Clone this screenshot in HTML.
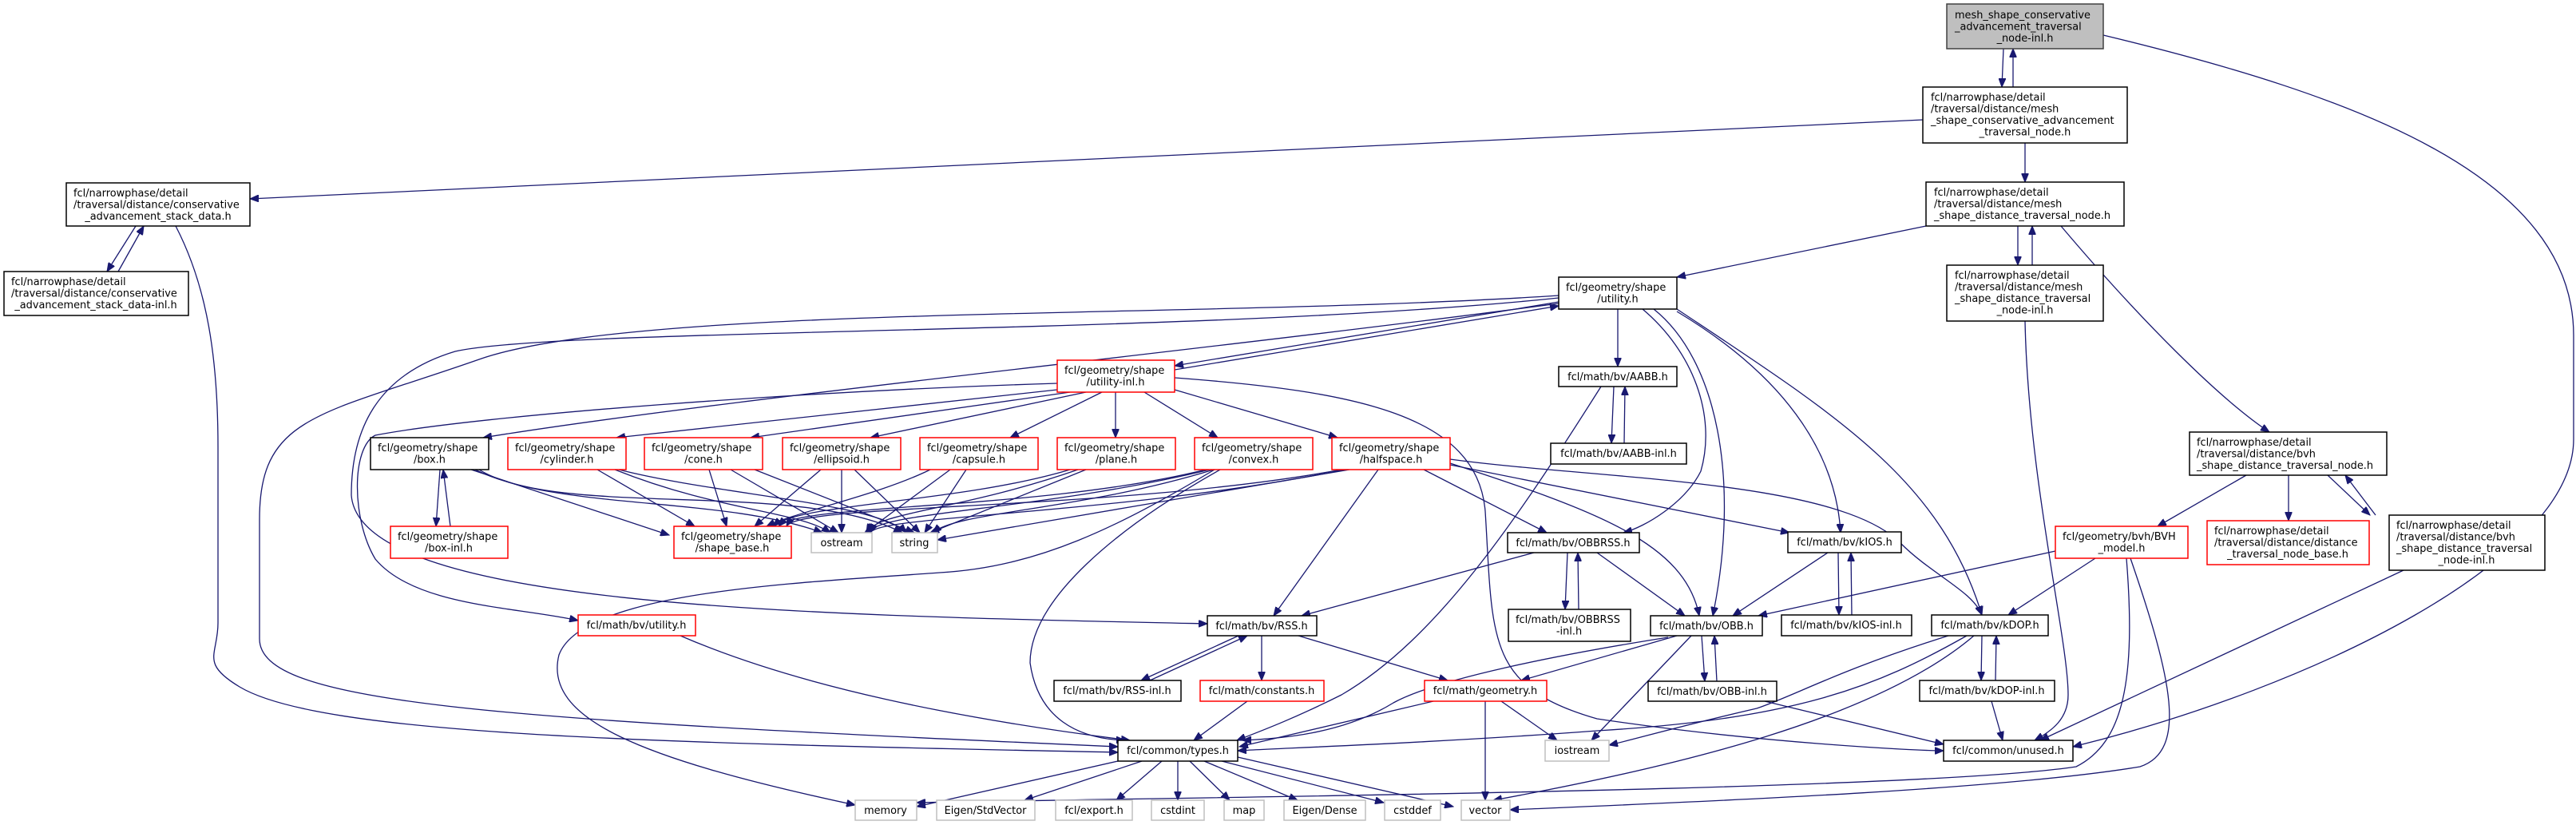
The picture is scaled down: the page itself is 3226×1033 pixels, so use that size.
<!DOCTYPE html>
<html><head><meta charset="utf-8"><style>
html,body{margin:0;padding:0;background:#fff;}
svg{display:block;}
text{font-family:"DejaVu Sans","Liberation Sans",sans-serif;font-size:12.9px;fill:#000;}
.e{fill:none;stroke:#191970;stroke-width:1.3;}
</style></head><body>
<svg width="3226" height="1033" viewBox="0 0 3226 1033" xmlns="http://www.w3.org/2000/svg">
<defs><marker id="a" markerUnits="userSpaceOnUse" markerWidth="12" markerHeight="9" refX="11" refY="4.5" orient="auto"><path d="M0,0 L11,4.5 L0,9 z" fill="#191970" stroke="#191970"/></marker></defs>
<g class="e" marker-end="url(#a)">
<path d="M2509,61 L2507,109"/><path d="M2521,109 L2521,61"/>
<path d="M2634,44 C2950,120 3223,220 3223,420 L3223,550 C3223,700 2900,860 2596,935"/>
<path d="M2408,150 L313,249"/>
<path d="M2536,179 L2536,228"/>
<path d="M2527,283 L2527,332"/><path d="M2545,332 L2545,283"/>
<path d="M2412,283 L2100,347"/>
<path d="M2581,283 C2680,400 2780,500 2842,541"/>
<path d="M2536,402 C2540,600 2590,800 2590,870 C2590,900 2570,915 2548,927"/>
<path d="M170,283 L134,340"/><path d="M148,340 L180,283"/>
<path d="M220,283 C260,360 273,450 273,560 L273,780 C273,820 250,830 300,860 C400,920 800,930 1400,942"/>
<path d="M1952,370 C1500,400 800,380 600,450 C400,520 325,520 325,650 L325,800 C325,880 600,900 1400,935"/>
<path d="M1952,373 C1500,420 700,410 570,440 C470,470 440,540 440,620 C450,760 1000,770 1512,781"/>
<path d="M1324,480 C1000,490 600,520 470,545 C440,560 440,650 470,700 C520,760 650,760 724,777"/>
<path d="M1952,380 C1500,440 900,500 605,548"/>
<path d="M1952,378 L1471,458"/><path d="M1471,463 L1952,383"/>
<path d="M1324,488 L772,548"/><path d="M1340,491 L940,548"/><path d="M1360,491 L1090,548"/>
<path d="M1380,491 L1265,548"/><path d="M1397,491 L1397,548"/><path d="M1433,491 L1525,548"/>
<path d="M1471,488 L1675,548"/>
<path d="M1471,473 C1700,490 1850,520 1860,640 C1870,800 1860,860 2000,900 C2200,930 2400,940 2434,940"/>
<path d="M551,588 L546,659"/><path d="M564,659 L555,588"/>
<path d="M590,588 L838,670"/><path d="M595,588 C700,640 900,620 1030,667"/><path d="M600,588 C700,650 1000,600 1130,667"/>
<path d="M748,588 L870,659"/><path d="M770,588 C900,640 1000,640 1040,667"/><path d="M775,588 C900,620 1100,630 1135,667"/>
<path d="M888,588 L910,659"/><path d="M915,588 L1050,667"/><path d="M945,588 L1145,667"/>
<path d="M1028,588 L945,659"/><path d="M1054,588 L1054,667"/><path d="M1070,588 L1152,667"/>
<path d="M1165,588 C1100,620 1000,640 960,659"/><path d="M1190,588 L1083,667"/><path d="M1210,588 L1158,667"/>
<path d="M1340,588 C1200,630 1000,630 968,659"/><path d="M1350,588 C1200,640 1100,640 1085,667"/><path d="M1360,588 L1165,667"/>
<path d="M1510,588 C1300,640 1000,630 975,659"/><path d="M1515,588 C1300,640 1100,640 1088,667"/><path d="M1520,588 C1350,640 1200,640 1168,667"/>
<path d="M1521,588 C1400,660 1300,710 1177,717 C1000,730 730,740 700,820 C680,900 800,950 1071,1008"/>
<path d="M1528,588 C1400,660 1290,750 1290,830 C1300,900 1350,925 1409,927"/>
<path d="M1680,588 C1400,640 1000,630 985,659"/><path d="M1685,588 C1400,645 1100,645 1090,667"/>
<path d="M1690,588 L1174,676"/><path d="M1726,588 L1595,771"/><path d="M1783,588 L1937,667"/>
<path d="M1816,580 C2000,640 2110,680 2128,771"/><path d="M1816,582 L2241,667"/>
<path d="M1816,575 C2000,600 2300,600 2380,680 C2420,720 2470,740 2482,770"/>
<path d="M2026,387 L2026,459"/>
<path d="M2021,484 L2018,555"/><path d="M2034,555 L2035,484"/>
<path d="M2005,484 C1900,650 1800,800 1680,870 C1620,900 1580,915 1549,927"/>
<path d="M2057,387 C2120,440 2150,520 2130,590 C2110,630 2060,660 2033,667"/>
<path d="M2071,387 C2150,450 2180,600 2145,771"/>
<path d="M2100,390 C2250,480 2300,580 2305,667"/>
<path d="M2100,387 C2300,520 2430,600 2482,770"/>
<path d="M1963,692 L1960,763"/><path d="M1977,763 L1976,692"/>
<path d="M1921,692 L1630,771"/><path d="M2000,692 L2110,771"/>
<path d="M2302,692 L2303,770"/><path d="M2319,770 L2318,692"/><path d="M2289,692 L2170,771"/>
<path d="M2574,690 L2202,771"/><path d="M2624,699 L2515,770"/>
<path d="M2663,699 C2675,850 2660,930 2600,960 C2400,990 1500,998 1148,1005"/>
<path d="M2668,699 C2720,850 2740,940 2680,960 C2500,990 2100,1005 1891,1014"/>
<path d="M2813,595 L2702,659"/><path d="M2866,595 L2866,652"/>
<path d="M2915,595 L2968,645"/><path d="M2975,645 L2937,595"/>
<path d="M3010,714 L2555,927"/>
<path d="M2482,796 L2481,852"/><path d="M2499,852 L2500,796"/><path d="M2494,878 L2508,927"/>
<path d="M2440,796 C2300,840 2250,870 2200,887 C2100,910 2050,925 2015,933"/>
<path d="M2463,796 C2350,860 2250,900 2000,915 C1800,930 1600,937 1550,940"/>
<path d="M2472,796 C2350,900 2100,960 1870,1002"/>
<path d="M2131,796 L2135,853"/><path d="M2150,853 L2147,796"/><path d="M2210,878 L2434,932"/>
<path d="M2089,798 C1950,820 1800,850 1745,880 C1680,920 1600,925 1556,927"/>
<path d="M2100,796 L1905,852"/><path d="M2118,796 L1993,927"/>
<path d="M1551,796 L1429,852"/><path d="M1440,852 L1562,796"/>
<path d="M1580,796 L1580,852"/><path d="M1626,796 L1813,852"/>
<path d="M1562,878 L1495,927"/><path d="M1795,878 L1552,935"/>
<path d="M1860,878 L1860,1002"/><path d="M1880,878 L1950,927"/>
<path d="M852,796 C1000,860 1200,900 1415,927"/>
<path d="M1400,953 L1148,1010"/><path d="M1430,953 L1283,1002"/><path d="M1455,953 L1398,1002"/>
<path d="M1475,953 L1475,1002"/><path d="M1490,953 L1540,1002"/><path d="M1508,953 L1625,1002"/>
<path d="M1530,953 L1733,1005"/><path d="M1550,948 L1820,1010"/>
</g>
<g stroke-width="1.5">
<!-- black nodes -->
<g fill="#fff" stroke="#000">
<rect x="2408" y="109" width="256" height="70"/>
<rect x="2412" y="228" width="248" height="55"/>
<rect x="2438" y="332" width="196" height="70"/>
<rect x="83" y="229" width="230" height="54"/>
<rect x="5" y="340" width="231" height="55"/>
<rect x="1952" y="347" width="148" height="40"/>
<rect x="1952" y="459" width="148" height="25"/>
<rect x="1942" y="555" width="170" height="26"/>
<rect x="464" y="548" width="148" height="40"/>
<rect x="1888" y="667" width="165" height="25"/>
<rect x="1889" y="763" width="153" height="40"/>
<rect x="2239" y="666" width="142" height="26"/>
<rect x="2231" y="770" width="163" height="26"/>
<rect x="2419" y="770" width="146" height="26"/>
<rect x="2404" y="852" width="169" height="26"/>
<rect x="2742" y="541" width="247" height="54"/>
<rect x="2992" y="645" width="195" height="69"/>
<rect x="1512" y="771" width="137" height="25"/>
<rect x="1320" y="852" width="159" height="26"/>
<rect x="2067" y="771" width="140" height="25"/>
<rect x="2064" y="853" width="161" height="25"/>
<rect x="1400" y="927" width="150" height="26"/>
<rect x="2434" y="927" width="162" height="26"/>
</g>
<rect x="2438" y="5" width="196" height="56" fill="#bfbfbf" stroke="#404040"/>
<!-- red nodes -->
<g fill="#fff" stroke="#ff0000">
<rect x="1324" y="451" width="147" height="40"/>
<rect x="636" y="548" width="148" height="40"/>
<rect x="807" y="548" width="148" height="40"/>
<rect x="980" y="548" width="148" height="40"/>
<rect x="1152" y="548" width="148" height="40"/>
<rect x="1324" y="548" width="148" height="40"/>
<rect x="1496" y="548" width="148" height="40"/>
<rect x="1668" y="548" width="148" height="40"/>
<rect x="489" y="659" width="147" height="40"/>
<rect x="844" y="659" width="147" height="40"/>
<rect x="2574" y="659" width="166" height="40"/>
<rect x="2764" y="652" width="203" height="55"/>
<rect x="724" y="770" width="147" height="26"/>
<rect x="1503" y="852" width="155" height="26"/>
<rect x="1784" y="852" width="153" height="26"/>
</g>
<!-- gray nodes -->
<g fill="#fff" stroke="#bfbfbf">
<rect x="1016" y="667" width="76" height="25"/>
<rect x="1117" y="667" width="57" height="25"/>
<rect x="1935" y="927" width="80" height="26"/>
<rect x="1071" y="1002" width="77" height="25"/>
<rect x="1173" y="1002" width="123" height="25"/>
<rect x="1322" y="1002" width="96" height="25"/>
<rect x="1442" y="1002" width="66" height="25"/>
<rect x="1533" y="1002" width="50" height="25"/>
<rect x="1608" y="1002" width="102" height="25"/>
<rect x="1734" y="1002" width="70" height="25"/>
<rect x="1830" y="1002" width="61" height="25"/>
</g>
</g>
<!-- labels -->
<text x="2448" y="23">mesh_shape_conservative</text>
<text x="2448" y="37.5">_advancement_traversal</text>
<text x="2536" y="52" text-anchor="middle">_node-inl.h</text>
<text x="2418" y="126">fcl/narrowphase/detail</text>
<text x="2418" y="140.5">/traversal/distance/mesh</text>
<text x="2418" y="155">_shape_conservative_advancement</text>
<text x="2536" y="169.5" text-anchor="middle">_traversal_node.h</text>
<text x="2422" y="245">fcl/narrowphase/detail</text>
<text x="2422" y="259.5">/traversal/distance/mesh</text>
<text x="2422" y="274">_shape_distance_traversal_node.h</text>
<text x="2448" y="349">fcl/narrowphase/detail</text>
<text x="2448" y="363.5">/traversal/distance/mesh</text>
<text x="2448" y="378">_shape_distance_traversal</text>
<text x="2536" y="392.5" text-anchor="middle">_node-inl.h</text>
<text x="92" y="246">fcl/narrowphase/detail</text>
<text x="92" y="260.5">/traversal/distance/conservative</text>
<text x="198" y="275" text-anchor="middle">_advancement_stack_data.h</text>
<text x="14" y="357">fcl/narrowphase/detail</text>
<text x="14" y="371.5">/traversal/distance/conservative</text>
<text x="120" y="386" text-anchor="middle">_advancement_stack_data-inl.h</text>
<text x="1961" y="364">fcl/geometry/shape</text><text x="2026" y="378.5" text-anchor="middle">/utility.h</text>
<text x="1333" y="468">fcl/geometry/shape</text><text x="1397" y="482.5" text-anchor="middle">/utility-inl.h</text>
<text x="2026" y="476" text-anchor="middle">fcl/math/bv/AABB.h</text>
<text x="2027" y="572" text-anchor="middle">fcl/math/bv/AABB-inl.h</text>
<text x="473" y="565">fcl/geometry/shape</text><text x="538" y="579.5" text-anchor="middle">/box.h</text>
<text x="645" y="565">fcl/geometry/shape</text><text x="710" y="579.5" text-anchor="middle">/cylinder.h</text>
<text x="816" y="565">fcl/geometry/shape</text><text x="881" y="579.5" text-anchor="middle">/cone.h</text>
<text x="989" y="565">fcl/geometry/shape</text><text x="1054" y="579.5" text-anchor="middle">/ellipsoid.h</text>
<text x="1161" y="565">fcl/geometry/shape</text><text x="1226" y="579.5" text-anchor="middle">/capsule.h</text>
<text x="1333" y="565">fcl/geometry/shape</text><text x="1398" y="579.5" text-anchor="middle">/plane.h</text>
<text x="1505" y="565">fcl/geometry/shape</text><text x="1570" y="579.5" text-anchor="middle">/convex.h</text>
<text x="1677" y="565">fcl/geometry/shape</text><text x="1742" y="579.5" text-anchor="middle">/halfspace.h</text>
<text x="498" y="676">fcl/geometry/shape</text><text x="562" y="690.5" text-anchor="middle">/box-inl.h</text>
<text x="853" y="676">fcl/geometry/shape</text><text x="917" y="690.5" text-anchor="middle">/shape_base.h</text>
<text x="1054" y="684" text-anchor="middle">ostream</text>
<text x="1145" y="684" text-anchor="middle">string</text>
<text x="1970" y="684" text-anchor="middle">fcl/math/bv/OBBRSS.h</text>
<text x="1898" y="780">fcl/math/bv/OBBRSS</text><text x="1965" y="794.5" text-anchor="middle">-inl.h</text>
<text x="2310" y="683" text-anchor="middle">fcl/math/bv/kIOS.h</text>
<text x="2312" y="787" text-anchor="middle">fcl/math/bv/kIOS-inl.h</text>
<text x="2492" y="787" text-anchor="middle">fcl/math/bv/kDOP.h</text>
<text x="2488" y="869" text-anchor="middle">fcl/math/bv/kDOP-inl.h</text>
<text x="2751" y="558">fcl/narrowphase/detail</text>
<text x="2751" y="572.5">/traversal/distance/bvh</text>
<text x="2751" y="587">_shape_distance_traversal_node.h</text>
<text x="2583" y="676">fcl/geometry/bvh/BVH</text><text x="2657" y="690.5" text-anchor="middle">_model.h</text>
<text x="2773" y="669">fcl/narrowphase/detail</text>
<text x="2773" y="683.5">/traversal/distance/distance</text>
<text x="2865" y="698" text-anchor="middle">_traversal_node_base.h</text>
<text x="3001" y="662">fcl/narrowphase/detail</text>
<text x="3001" y="676.5">/traversal/distance/bvh</text>
<text x="3001" y="691">_shape_distance_traversal</text>
<text x="3089" y="705.5" text-anchor="middle">_node-inl.h</text>
<text x="797" y="787" text-anchor="middle">fcl/math/bv/utility.h</text>
<text x="1580" y="788" text-anchor="middle">fcl/math/bv/RSS.h</text>
<text x="1399" y="869" text-anchor="middle">fcl/math/bv/RSS-inl.h</text>
<text x="1580" y="869" text-anchor="middle">fcl/math/constants.h</text>
<text x="1860" y="869" text-anchor="middle">fcl/math/geometry.h</text>
<text x="2137" y="788" text-anchor="middle">fcl/math/bv/OBB.h</text>
<text x="2144" y="870" text-anchor="middle">fcl/math/bv/OBB-inl.h</text>
<text x="1475" y="944" text-anchor="middle">fcl/common/types.h</text>
<text x="1975" y="944" text-anchor="middle">iostream</text>
<text x="2515" y="944" text-anchor="middle">fcl/common/unused.h</text>
<text x="1109" y="1019" text-anchor="middle">memory</text>
<text x="1234" y="1019" text-anchor="middle">Eigen/StdVector</text>
<text x="1370" y="1019" text-anchor="middle">fcl/export.h</text>
<text x="1475" y="1019" text-anchor="middle">cstdint</text>
<text x="1558" y="1019" text-anchor="middle">map</text>
<text x="1659" y="1019" text-anchor="middle">Eigen/Dense</text>
<text x="1769" y="1019" text-anchor="middle">cstddef</text>
<text x="1860" y="1019" text-anchor="middle">vector</text>
</svg>
</body></html>
